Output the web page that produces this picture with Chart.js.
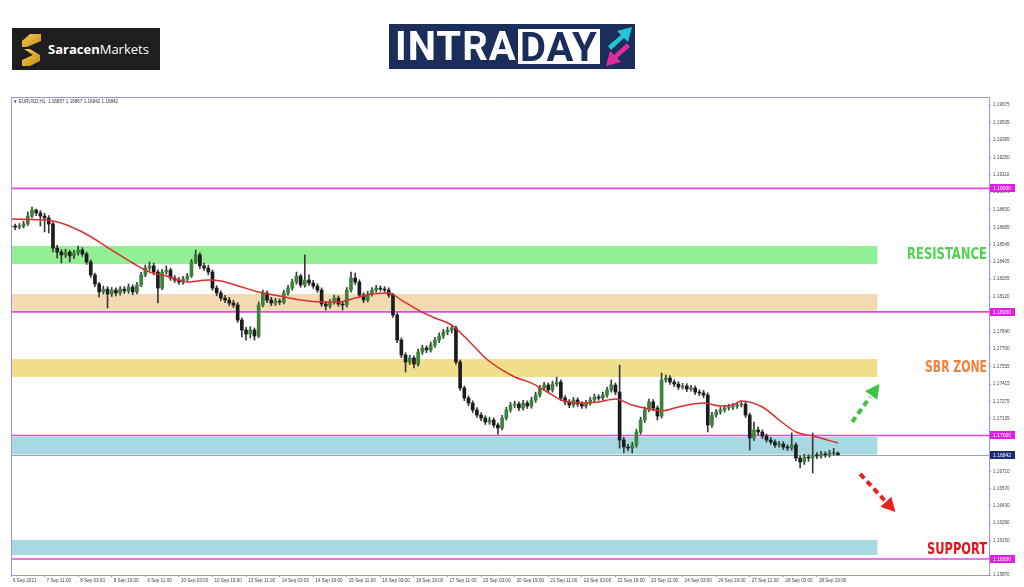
<!DOCTYPE html>
<html><head><meta charset="utf-8">
<script src="https://cdn.jsdelivr.net/npm/chart.js@4.4.0/dist/chart.umd.min.js"></script>
<style>
html,body{margin:0;padding:0;background:#fff;}
#wrap{position:relative;width:1024px;height:587px;overflow:hidden;background:#fff;}
#c{position:absolute;left:0;top:0;}
.saracen{position:absolute;left:12px;top:28px;width:148px;height:42px;background:#1e1e1e;}
.saracen .txt{position:absolute;left:36px;top:12px;font-family:'Open Sans','Lato',sans-serif;font-size:13px;color:#fff;line-height:18px;white-space:nowrap;}
.saracen .txt b{font-weight:700;}
.saracen .txt span{font-weight:400;}
.intra{position:absolute;left:389px;top:24px;width:246px;height:45px;background:#1b2d5b;}
.intra .a{position:absolute;left:6px;top:0;height:45px;line-height:46px;font-family:'Roboto','Liberation Sans',sans-serif;font-weight:700;font-size:40px;color:#fff;letter-spacing:1px;}
.intra .box{position:absolute;left:129px;top:5px;width:82px;height:35px;background:#fff;}
.intra .box div{position:absolute;left:2px;top:0;height:35px;line-height:37px;font-family:'Roboto','Liberation Sans',sans-serif;font-weight:700;font-size:40px;color:#1b2d5b;letter-spacing:1px;}
svg.icons{position:absolute;left:0;top:0;}
</style></head>
<body><div id="wrap">
<canvas id="c" width="1024" height="587"></canvas>
<div class="saracen"><div class="txt"><b>Saracen</b><span>Markets</span></div></div>
<div class="intra"><div class="a">INTRA</div><div class="box"><div>DAY</div></div></div>
<svg class="icons" width="1024" height="120">
 <defs><linearGradient id="gold" x1="0" y1="0" x2="1" y2="1"><stop offset="0" stop-color="#f7cf55"/><stop offset="1" stop-color="#c68a12"/></linearGradient></defs>
 <polygon points="30,34 41,34 41,41 27,47 22,47 22,41" fill="url(#gold)"/>
 <polygon points="24,49 30,49 40,55 40,61 30,66 22,66 22,60 33,55" fill="url(#gold)"/>
 <polygon points="608,46 621,35 617,31 632,27 628,42 624,38 611,50" fill="#23c6d6"/>
 <polygon points="630,47 617,58 621,62 606,66 610,51 614,55 627,43" fill="#e42b9e"/>
</svg>
</div>
<script>
// ---------------- DATA ----------------
const xTickIdx = [0,8,16,24,32,40,48,56,64,72,80,88,96,104,112,120,128,136,144,152,160,168,176,184,192];
const xTickLabels = ["6 Sep 2021","7 Sep 11:00","8 Sep 03:00","8 Sep 19:00","9 Sep 11:00","10 Sep 03:00","10 Sep 19:00","13 Sep 11:00","14 Sep 03:00","14 Sep 19:00","15 Sep 11:00","16 Sep 03:00","16 Sep 19:00","17 Sep 11:00","20 Sep 03:00","20 Sep 19:00","21 Sep 11:00","22 Sep 03:00","22 Sep 19:00","23 Sep 11:00","24 Sep 03:00","24 Sep 19:00","27 Sep 11:00","28 Sep 03:00","28 Sep 19:00"];
const yTicks = [1.19675,1.19535,1.19395,1.19250,1.19110,1.18970,1.18830,1.18685,1.18545,1.18405,1.18265,1.18120,1.17980,1.17840,1.17700,1.17555,1.17415,1.17275,1.17135,1.16995,1.16850,1.16710,1.16570,1.16430,1.16290,1.16150,1.16010,1.15870];

const opens = [
1.18687,1.18695,1.18687,1.18695,1.18712,1.18776,1.18825,1.18801,1.18776,1.18760,
1.18712,1.18517,1.18485,1.18461,1.18485,1.18453,1.18477,1.18501,1.18469,1.18404,
1.18299,1.18226,1.18161,1.18185,1.18145,1.18177,1.18153,1.18185,1.18169,1.18201,
1.18161,1.18218,1.18299,1.18355,1.18372,1.18323,1.18193,1.18323,1.18339,1.18274,
1.18258,1.18242,1.18266,1.18291,1.18404,1.18461,1.18372,1.18355,1.18323,1.18193,
1.18153,1.18112,1.18096,1.18072,1.18056,1.17934,1.17853,1.17821,1.17853,1.17805,
1.18056,1.18153,1.18096,1.18072,1.18088,1.18080,1.18153,1.18193,1.18242,1.18291,
1.18218,1.18258,1.18234,1.18210,1.18177,1.18064,1.18048,1.18080,1.18112,1.18064,
1.18056,1.18177,1.18274,1.18242,1.18137,1.18096,1.18145,1.18177,1.18193,1.18185,
1.18177,1.18137,1.17975,1.17772,1.17651,1.17594,1.17627,1.17578,1.17675,1.17708,
1.17692,1.17732,1.17772,1.17805,1.17837,1.17853,1.17870,1.17594,1.17384,1.17303,
1.17262,1.17206,1.17165,1.17141,1.17109,1.17125,1.17084,1.17060,1.17141,1.17206,
1.17246,1.17254,1.17222,1.17262,1.17238,1.17287,1.17327,1.17384,1.17408,1.17368,
1.17416,1.17432,1.17303,1.17271,1.17246,1.17287,1.17254,1.17238,1.17262,1.17287,
1.17311,1.17303,1.17327,1.17368,1.17408,1.17351,1.16963,1.16906,1.16898,1.16922,
1.17028,1.17125,1.17206,1.17271,1.17222,1.17157,1.17449,1.17465,1.17432,1.17416,
1.17392,1.17400,1.17376,1.17384,1.17351,1.17343,1.17327,1.17084,1.17165,1.17190,
1.17206,1.17222,1.17230,1.17238,1.17246,1.17254,1.17165,1.16979,1.17044,1.17028,
1.16995,1.16963,1.16947,1.16922,1.16931,1.16906,1.16898,1.16922,1.16817,1.16785,
1.16825,1.16817,1.16842,1.16833,1.16850,1.16842,1.16858,1.16857];
const highs = [
1.18718,1.18712,1.18716,1.18735,1.18809,1.18849,1.18833,1.18820,1.18798,1.18780,
1.18730,1.18540,1.18505,1.18508,1.18500,1.18498,1.18534,1.18520,1.18485,1.18420,
1.18315,1.18240,1.18210,1.18205,1.18198,1.18195,1.18206,1.18205,1.18225,1.18220,
1.18240,1.18320,1.18380,1.18404,1.18396,1.18340,1.18345,1.18372,1.18355,1.18295,
1.18280,1.18288,1.18312,1.18425,1.18501,1.18480,1.18395,1.18378,1.18340,1.18212,
1.18170,1.18135,1.18118,1.18095,1.18075,1.17950,1.17875,1.17880,1.17870,1.18080,
1.18177,1.18170,1.18118,1.18110,1.18105,1.18175,1.18215,1.18265,1.18323,1.18305,
1.18461,1.18300,1.18255,1.18228,1.18195,1.18085,1.18102,1.18135,1.18130,1.18085,
1.18198,1.18323,1.18315,1.18260,1.18155,1.18168,1.18198,1.18215,1.18212,1.18205,
1.18196,1.18150,1.17990,1.17790,1.17670,1.17650,1.17645,1.17698,1.17730,1.17725,
1.17755,1.17795,1.17830,1.17860,1.17878,1.17894,1.17885,1.17610,1.17400,1.17320,
1.17280,1.17225,1.17185,1.17160,1.17148,1.17142,1.17100,1.17162,1.17228,1.17268,
1.17278,1.17272,1.17285,1.17280,1.17310,1.17350,1.17405,1.17430,1.17425,1.17440,
1.17473,1.17450,1.17322,1.17290,1.17308,1.17305,1.17275,1.17285,1.17310,1.17335,
1.17330,1.17350,1.17390,1.17449,1.17425,1.17570,1.16985,1.16930,1.16945,1.17050,
1.17148,1.17230,1.17295,1.17290,1.17240,1.17505,1.17490,1.17485,1.17450,1.17435,
1.17422,1.17420,1.17405,1.17400,1.17370,1.17365,1.17345,1.17188,1.17212,1.17228,
1.17245,1.17252,1.17260,1.17268,1.17278,1.17270,1.17180,1.17109,1.17068,1.17045,
1.17012,1.16985,1.16965,1.16952,1.16950,1.16925,1.17020,1.16940,1.16835,1.16848,
1.16845,1.17020,1.16862,1.16872,1.16868,1.16880,1.16895,1.16867];
const lows = [
1.18668,1.18665,1.18672,1.18680,1.18700,1.18760,1.18780,1.18695,1.18647,1.18639,
1.18485,1.18436,1.18396,1.18440,1.18404,1.18432,1.18460,1.18448,1.18385,1.18280,
1.18205,1.18121,1.18145,1.18032,1.18125,1.18130,1.18135,1.18148,1.18150,1.18140,
1.18145,1.18205,1.18285,1.18335,1.18300,1.18072,1.18180,1.18305,1.18255,1.18238,
1.18222,1.18225,1.18250,1.18280,1.18390,1.18350,1.18335,1.18300,1.18175,1.18130,
1.18092,1.18075,1.18050,1.18035,1.17915,1.17797,1.17772,1.17789,1.17772,1.17790,
1.18040,1.18075,1.18050,1.18052,1.18058,1.18065,1.18135,1.18175,1.18225,1.18200,
1.18200,1.18215,1.18190,1.18158,1.18045,1.18015,1.18030,1.18062,1.18045,1.18015,
1.18040,1.18160,1.18222,1.18118,1.18075,1.18080,1.18128,1.18160,1.18168,1.18158,
1.18118,1.17955,1.17750,1.17630,1.17513,1.17575,1.17546,1.17560,1.17655,1.17670,
1.17675,1.17712,1.17750,1.17785,1.17815,1.17830,1.17575,1.17365,1.17282,1.17240,
1.17185,1.17145,1.17120,1.17088,1.17090,1.17065,1.17011,1.17045,1.17125,1.17188,
1.17225,1.17200,1.17205,1.17218,1.17220,1.17268,1.17310,1.17365,1.17350,1.17350,
1.17398,1.17285,1.17250,1.17225,1.17228,1.17235,1.17218,1.17220,1.17245,1.17270,
1.17285,1.17285,1.17310,1.17350,1.17330,1.16898,1.16858,1.16875,1.16858,1.16905,
1.17010,1.17105,1.17190,1.17200,1.17125,1.17140,1.17430,1.17412,1.17395,1.17372,
1.17375,1.17355,1.17358,1.17332,1.17322,1.17305,1.17028,1.17065,1.17148,1.17172,
1.17188,1.17205,1.17210,1.17218,1.17230,1.17145,1.16882,1.16960,1.17005,1.16975,
1.16945,1.16928,1.16902,1.16905,1.16885,1.16878,1.16880,1.16795,1.16736,1.16765,
1.16790,1.16696,1.16812,1.16815,1.16822,1.16825,1.16840,1.16842];
const closes = [
1.18695,1.18687,1.18695,1.18712,1.18776,1.18825,1.18801,1.18776,1.18760,1.18712,
1.18517,1.18485,1.18461,1.18485,1.18453,1.18477,1.18501,1.18469,1.18404,1.18299,
1.18226,1.18161,1.18185,1.18145,1.18177,1.18153,1.18185,1.18169,1.18201,1.18161,
1.18218,1.18299,1.18355,1.18372,1.18323,1.18193,1.18323,1.18339,1.18274,1.18258,
1.18242,1.18266,1.18291,1.18404,1.18461,1.18372,1.18355,1.18323,1.18193,1.18153,
1.18112,1.18096,1.18072,1.18056,1.17934,1.17853,1.17821,1.17853,1.17805,1.18056,
1.18153,1.18096,1.18072,1.18088,1.18080,1.18153,1.18193,1.18242,1.18291,1.18218,
1.18258,1.18234,1.18210,1.18177,1.18064,1.18048,1.18080,1.18112,1.18064,1.18056,
1.18177,1.18274,1.18242,1.18137,1.18096,1.18145,1.18177,1.18193,1.18185,1.18177,
1.18137,1.17975,1.17772,1.17651,1.17594,1.17627,1.17578,1.17675,1.17708,1.17692,
1.17732,1.17772,1.17805,1.17837,1.17853,1.17870,1.17594,1.17384,1.17303,1.17262,
1.17206,1.17165,1.17141,1.17109,1.17125,1.17084,1.17060,1.17141,1.17206,1.17246,
1.17254,1.17222,1.17262,1.17238,1.17287,1.17327,1.17384,1.17408,1.17368,1.17416,
1.17432,1.17303,1.17271,1.17246,1.17287,1.17254,1.17238,1.17262,1.17287,1.17311,
1.17303,1.17327,1.17368,1.17408,1.17351,1.16963,1.16906,1.16898,1.16922,1.17028,
1.17125,1.17206,1.17271,1.17222,1.17157,1.17449,1.17465,1.17432,1.17416,1.17392,
1.17400,1.17376,1.17384,1.17351,1.17343,1.17327,1.17084,1.17165,1.17190,1.17206,
1.17222,1.17230,1.17238,1.17246,1.17254,1.17165,1.16979,1.17044,1.17028,1.16995,
1.16963,1.16947,1.16922,1.16931,1.16906,1.16898,1.16922,1.16817,1.16785,1.16825,
1.16817,1.16842,1.16833,1.16850,1.16842,1.16858,1.16857,1.16842];

const maIdx = [0,10,17,24,29,33,37,42,47,50,55,59,64,69,74,78,82,86,90,93,97,101,105,110,113,117,120,124,129,131,136,140,144,148,152,155,159,165,169,172,174,179,183,187,191,197];
const maVal = [1.18752,1.18736,1.18647,1.18501,1.18396,1.18323,1.18291,1.18242,1.18258,1.18250,
1.18201,1.18161,1.18129,1.18096,1.18080,1.18080,1.18112,1.18145,1.18153,1.18096,
1.18015,1.17951,1.17894,1.17732,1.17627,1.17530,1.17473,1.17424,1.17327,1.17287,
1.17262,1.17271,1.17295,1.17246,1.17214,1.17198,1.17230,1.17262,1.17238,1.17246,
1.17279,1.17230,1.17125,1.17028,1.16995,1.16939];

const zoneTops    = [1.18534,1.18145,1.17619,1.16987,1.16153];
const zoneBottoms = [1.18388,1.18010,1.17473,1.16845,1.16032];
const zoneEndIdx = 206.4;
const levelLines = [1.19000,1.18000,1.17000,1.16000];
const currentPrice = 1.16842;
const lastBarOHLC = [1.16857,1.16867,1.16842,1.16842];
const zoneLabels = ["RESISTANCE","SBR ZONE","SUPPORT"];
const zoneLabelPrices = [1.18470,1.17554,1.16080];
const arrowUp   = {from:[200.4,1.17109], to:[206.9,1.17416]};
const arrowDown = {from:[202.3,1.16688], to:[210.7,1.16380]};
const xMin = 0, xMax = 233, yMin = 1.15870, yMax = 1.19740;

// ---------------- STYLE ----------------
const FRAME = '#9d95dc';
const TICKFONT = '"Liberation Sans", Arial, sans-serif';
const zoneColors = ['#93ef93','#f4d9b2','#f0e08c','#a8d9e2','#a8d9e2'];
const zoneLabelColors = ['#55cf55','#f4803e','#e3141c'];
const zoneLabelWidths = [80,62,60];
const BULL = '#3b823b', BEAR = '#1c1c1c', WICK = '#3a3a3a';

const wickData = highs.map((h,i)=>({x:i, y:[lows[i], h]}));
const bodyData = opens.map((o,i)=>({x:i, y:[o, closes[i]]}));
const maData = maIdx.map((v,k)=>({x:v, y:maVal[k]}));

function arrow(ctx, x, y, a, color){
  const x1=x.getPixelForValue(a.from[0]), y1=y.getPixelForValue(a.from[1]);
  const x2=x.getPixelForValue(a.to[0]), y2=y.getPixelForValue(a.to[1]);
  const ang=Math.atan2(y2-y1,x2-x1), head=14, hw=7.5;
  const bx=x2-head*Math.cos(ang), by=y2-head*Math.sin(ang);
  ctx.save();
  ctx.strokeStyle=color; ctx.fillStyle=color; ctx.lineWidth=4; ctx.setLineDash([6,4]);
  ctx.beginPath(); ctx.moveTo(x1,y1); ctx.lineTo(bx-2*Math.cos(ang),by-2*Math.sin(ang)); ctx.stroke();
  ctx.setLineDash([]);
  ctx.beginPath(); ctx.moveTo(x2,y2);
  ctx.lineTo(bx+hw*Math.sin(ang), by-hw*Math.cos(ang));
  ctx.lineTo(bx-hw*Math.sin(ang), by+hw*Math.cos(ang));
  ctx.closePath(); ctx.fill();
  ctx.restore();
}
function priceBox(ctx, a, y, v, bg){
  const py=Math.round(y.getPixelForValue(v));
  ctx.fillStyle=bg; ctx.fillRect(a.right+1, py-4, 25, 8);
  ctx.fillStyle='#fff'; ctx.font='5px ' + TICKFONT; ctx.textBaseline='middle'; ctx.textAlign='left';
  ctx.fillText(v.toFixed(5), a.right+4, py+0.5);
}

const annot = {
  id:'annot',
  beforeDatasetsDraw(chart){
    const {ctx, chartArea:a, scales:{x,y}} = chart;
    ctx.save();
    const x1=x.getPixelForValue(xMin), x2=x.getPixelForValue(zoneEndIdx);
    zoneTops.forEach((t,k)=>{
      const y1=y.getPixelForValue(t), y2=y.getPixelForValue(zoneBottoms[k]);
      ctx.fillStyle=zoneColors[k]; ctx.fillRect(x1,y1,x2-x1,y2-y1);
    });
    ctx.strokeStyle='#9aa3ad'; ctx.lineWidth=1;
    let cp=Math.round(y.getPixelForValue(currentPrice))+0.5;
    ctx.beginPath(); ctx.moveTo(a.left,cp); ctx.lineTo(a.right,cp); ctx.stroke();
    ctx.strokeStyle='#df48df'; ctx.lineWidth=1.6;
    levelLines.forEach(v=>{ const py=y.getPixelForValue(v); ctx.beginPath(); ctx.moveTo(a.left,py); ctx.lineTo(a.right+1,py); ctx.stroke(); });
    ctx.restore();
  },
  afterDraw(chart){
    const {ctx, chartArea:a, scales:{x,y}} = chart;
    ctx.save();
    ctx.strokeStyle=FRAME; ctx.lineWidth=1;
    ctx.beginPath(); ctx.moveTo(a.left+0.5,a.bottom); ctx.lineTo(a.left+0.5,a.top+0.5); ctx.lineTo(a.right,a.top+0.5); ctx.stroke();
    // header
    ctx.fillStyle='#333'; ctx.font='4.6px ' + TICKFONT; ctx.textBaseline='middle'; ctx.textAlign='left';
    ctx.fillText('\u25BC EURUSD,H1  ' + lastBarOHLC.map(v=>v.toFixed(5)).join(' '), a.left+2, a.top+4.5);
    // zone labels
    zoneLabels.forEach((t,k)=>{
      ctx.save();
      ctx.font='bold 16px "Liberation Sans Narrow","DejaVu Sans Condensed","DejaVu Sans",sans-serif';
      const w=ctx.measureText(t).width, s=zoneLabelWidths[k]/w;
      const py=y.getPixelForValue(zoneLabelPrices[k]);
      ctx.translate(a.right-2, py); ctx.scale(s,1);
      ctx.fillStyle=zoneLabelColors[k]; ctx.textAlign='right'; ctx.textBaseline='middle';
      ctx.fillText(t,0,1);
      ctx.restore();
    });
    arrow(ctx,x,y,arrowUp,'#3fc43f');
    arrow(ctx,x,y,arrowDown,'#e52323');
    levelLines.forEach(v=>priceBox(ctx,a,y,v,'#e020e0'));
    priceBox(ctx,a,y,currentPrice,'#1e2a78');
    ctx.restore();
  }
};

Chart.defaults.font.family = TICKFONT;
new Chart(document.getElementById('c'), {
  type:'bar',
  data:{datasets:[
    {type:'line', data:maData, borderColor:'#d8302e', borderWidth:1.5, pointRadius:0, cubicInterpolationMode:'monotone', order:0},
    {type:'bar', data:bodyData, grouped:false, barThickness:3, order:1,
     backgroundColor:c=>closes[c.dataIndex]>=opens[c.dataIndex]?BULL:BEAR, borderWidth:0},
    {type:'bar', data:wickData, grouped:false, barThickness:1, order:2, backgroundColor:WICK, borderWidth:0}
  ]},
  options:{
    responsive:false, animation:false, events:[],
    layout:{padding:{left:11, top:97, right:0, bottom:0}},
    plugins:{legend:{display:false}, tooltip:{enabled:false}},
    scales:{
      x:{type:'linear', min:xMin, max:xMax, offset:false, position:'bottom',
        afterBuildTicks:s=>{ s.ticks = xTickIdx.map(v=>({value:v})); },
        afterFit:s=>{ s.height = 12; },
        ticks:{autoSkip:false, maxRotation:0, minRotation:0, align:'start', labelOffset:2, padding:1, color:'#444', font:{size:4.6}, callback:(v,i)=>xTickLabels[i]},
        grid:{drawOnChartArea:false, offset:false, tickLength:2, color:FRAME},
        border:{color:FRAME}},
      y:{position:'right', min:yMin, max:yMax,
        afterBuildTicks:s=>{ s.ticks = yTicks.map(v=>({value:v})); },
        afterFit:s=>{ s.width = 35; },
        ticks:{padding:2, color:'#444', font:{size:4.6}, callback:v=>Number(v).toFixed(5)},
        grid:{drawOnChartArea:false, tickLength:2, color:FRAME},
        border:{color:FRAME}}
    }
  },
  plugins:[annot]
});
</script>
</body></html>
